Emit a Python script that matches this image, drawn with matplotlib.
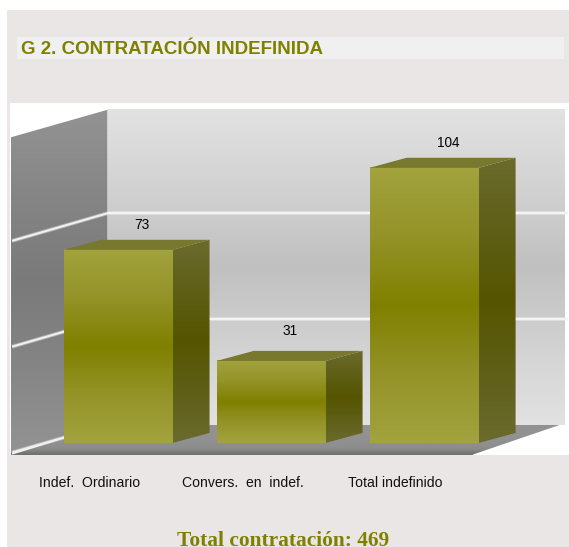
import matplotlib
matplotlib.use('Agg')
import matplotlib.pyplot as plt
import numpy as np
from matplotlib.colors import LinearSegmentedColormap
from matplotlib.patches import Polygon, Rectangle

categories = ['Indef.  Ordinario', 'Convers.  en  indef.', 'Total indefinido']
values = [73, 31, 104]
grid_values = [0, 40, 80, 120]
title = 'G 2. CONTRATACIÓN INDEFINIDA'
footer = 'Total contratación: 469'

W, H = 569, 547
OLIVE = '#808000'

# axes span the white box, x in categories, y in chart units
box = (10, 103, 569, 455)
xlim = (-0.706, 2.947)
ylim = (-4.54, 128.5)
bar_w = 0.712
depth_x, depth_y = 0.242, 3.8
wall_x0, wall_x1 = xlim[0] + 0.004, -0.071
wall_right = 2.918
floor_back = 2.885
floor_right = 2.31
front_y, back_y = -3.6, 6.8
wall_top = grid_values[-1] - 0.9


def gradient(ax, extent, colors, clip=None, zorder=1):
    cmap = LinearSegmentedColormap.from_list('g', colors)
    im = ax.imshow(np.linspace(0, 1, 256).reshape(-1, 1), extent=extent, cmap=cmap,
                   aspect='auto', origin='upper', interpolation='bilinear', zorder=zorder)
    if clip is not None:
        patch = Polygon(clip, closed=True, transform=ax.transData, fc='none', ec='none')
        ax.add_patch(patch)
        im.set_clip_path(patch)
    return im


def soft_line(ax, xs, ys, color):
    ax.plot(xs, ys, color=color, lw=2.8, alpha=0.4, solid_capstyle='butt', zorder=2)
    ax.plot(xs, ys, color=color, lw=1.5, solid_capstyle='butt', zorder=2)


fig = plt.figure(figsize=(W / 100, H / 100), dpi=100, facecolor='white')
fig.add_artist(Rectangle((7 / W, 0), (W - 7) / W, (H - 10) / H, transform=fig.transFigure,
                         fc='#ebe6e6', ec='none', zorder=-2))
fig.add_artist(Rectangle((17 / W, 1 - 59 / H), 547 / W, 22 / H, transform=fig.transFigure,
                         fc='#f0f0f0', ec='none', zorder=-1))

ax = fig.add_axes([box[0] / W, 1 - box[3] / H, (box[2] - box[0]) / W, (box[3] - box[1]) / H])
ax.set_xticks([])
ax.set_yticks([])
for s in ax.spines.values():
    s.set_visible(False)
ax.set_facecolor('white')

# back wall
gradient(ax, (wall_x1, wall_right, back_y, wall_top + back_y),
         ['#e2e2e2', '#d2d2d2', '#c0c0c0', '#d2d2d2', '#e2e2e2'])

# side wall
side_poly = [(wall_x0, front_y), (wall_x0, wall_top + front_y), (wall_x1, wall_top + back_y),
             (wall_x1, back_y)]
gradient(ax, (wall_x0, wall_x1, front_y, wall_top + back_y),
         ['#939393', '#858585', '#7a7a7a', '#858585', '#939393'], clip=side_poly)

# floor
floor_poly = [(wall_x0, ylim[0]), (wall_x1, back_y), (floor_back, back_y), (floor_right, ylim[0])]
gradient(ax, (wall_x0, wall_right, ylim[0], back_y),
         ['#929292', '#929292', '#929292', '#909090', '#8c8c8c', '#6e6e6e'],
         clip=floor_poly, zorder=1.5)

# gridlines on the walls
for v in grid_values[:-1]:
    soft_line(ax, [wall_x0 + 0.01, wall_x1], [v + front_y, v + back_y], '#f0f0f0')
    if v > 0:
        soft_line(ax, [wall_x1, wall_right + 0.02], [v + back_y, v + back_y], '#f4f4f4')

# axis ticks
for i in range(4):
    ax.plot([wall_x0 + i * (floor_right - wall_x0) / 3] * 2, [ylim[0], ylim[0] + 1.2],
            color='#777777', lw=0.8, zorder=3)

# bars
for i, (cat, v) in enumerate(zip(categories, values)):
    x0, x1 = i - bar_w / 2, i + bar_w / 2
    gradient(ax, (x0, x1, 0, v), ['#a3a33f', '#939328', OLIVE, '#939328', '#a3a33f'], zorder=4)
    side = [(x1, 0), (x1, v), (x1 + depth_x, v + depth_y), (x1 + depth_x, depth_y)]
    gradient(ax, (x1, x1 + depth_x, 0, v + depth_y),
             ['#6b6b2e', '#5f5f18', '#555500', '#5f5f18', '#6b6b2e'], clip=side, zorder=4)
    ax.add_patch(Polygon([(x0, v), (x0 + depth_x, v + depth_y), (x1 + depth_x, v + depth_y), (x1, v)],
                         closed=True, fc='#78782f', ec='none', zorder=4))
    # the short bar's label sits a little further up and left
    dx, dy = (0.127, 11.4) if v == 31 else (0.157, 9.5)
    ax.text(i + dx, v + dy, str(v), ha='center', va='center',
            fontsize=9.8, family='Liberation Sans', color='black', zorder=5)

ax.set_xlim(xlim)
ax.set_ylim(ylim)

# labels under the chart
for i, cat in enumerate(categories):
    fig.text((89.5 + i * 153) / W, 1 - 483 / H, cat, ha='center', va='center',
             fontsize=10.1, family='Liberation Sans', color='#111111')

fig.text(21 / W, 1 - 53.5 / H, title, ha='left', va='baseline', fontsize=13.5,
         family='Liberation Sans', weight='bold', color=OLIVE)
fig.text(283 / W, 1 - 546 / H, footer, ha='center', va='baseline', fontsize=15.4,
         family='Liberation Serif', weight='bold', color=OLIVE)

fig.savefig('out.png', dpi=100)
